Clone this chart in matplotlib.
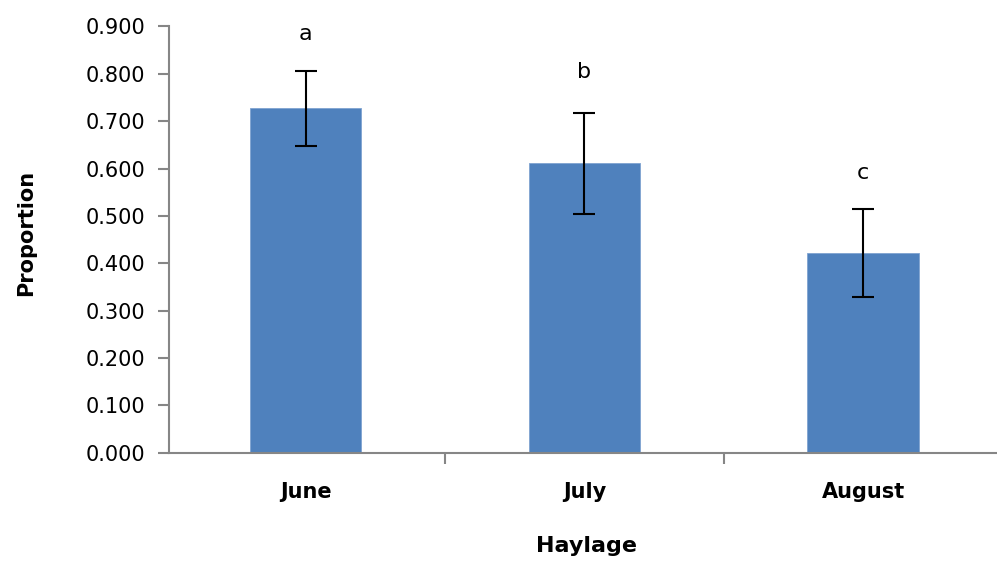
import numpy as np
import matplotlib.pyplot as plt
from matplotlib.ticker import FixedLocator, FormatStrFormatter

# Haylage proportion by month
months = ["June", "July", "August"]
proportion = [0.727, 0.611, 0.422]
error = [0.080, 0.107, 0.093]
letters = ["a", "b", "c"]
letter_y = [0.885, 0.803, 0.590]

fig = plt.figure(figsize=(9.97, 5.63), dpi=100)
ax = fig.add_axes([0.1695, 0.196, 0.836, 0.757])

x = np.arange(len(months))
ax.bar(x, proportion, width=0.4, color="#4F81BD", edgecolor="#7FA3D1", linewidth=0.6)
ax.errorbar(x, proportion, yerr=error, fmt="none", ecolor="black",
            elinewidth=1.5, capsize=8, capthick=1.5)

for xi, lab, ly in zip(x, letters, letter_y):
    ax.text(xi, ly, lab, ha="center", va="center", fontsize=16, color="black")

ax.set_xlim(-0.49, 2.5)
ax.set_ylim(0, 0.9)
ax.set_yticks(np.arange(0, 0.91, 0.1))
ax.yaxis.set_major_formatter(FormatStrFormatter("%.3f"))

ax.set_xticks(x)
ax.set_xticklabels(months, fontweight="bold")
ax.xaxis.set_minor_locator(FixedLocator([0.5, 1.5, 2.5]))
ax.tick_params(axis="x", which="major", length=0, pad=21, labelsize=15)
ax.tick_params(axis="x", which="minor", length=8, width=1.5, color="#868686")
ax.tick_params(axis="y", length=8, width=1.5, color="#868686", pad=9, labelsize=15)

for side in ["top", "right"]:
    ax.spines[side].set_visible(False)
for side in ["left", "bottom"]:
    ax.spines[side].set_color("#868686")
    ax.spines[side].set_linewidth(1.5)

ax.set_ylabel("Proportion", fontsize=15, fontweight="bold")
ax.yaxis.set_label_coords(-0.16, 0.516)
ax.set_xlabel("Haylage", fontsize=16, fontweight="bold")
ax.xaxis.set_label_coords(0.5006, -0.195)

fig.savefig("out.png", dpi=100)
